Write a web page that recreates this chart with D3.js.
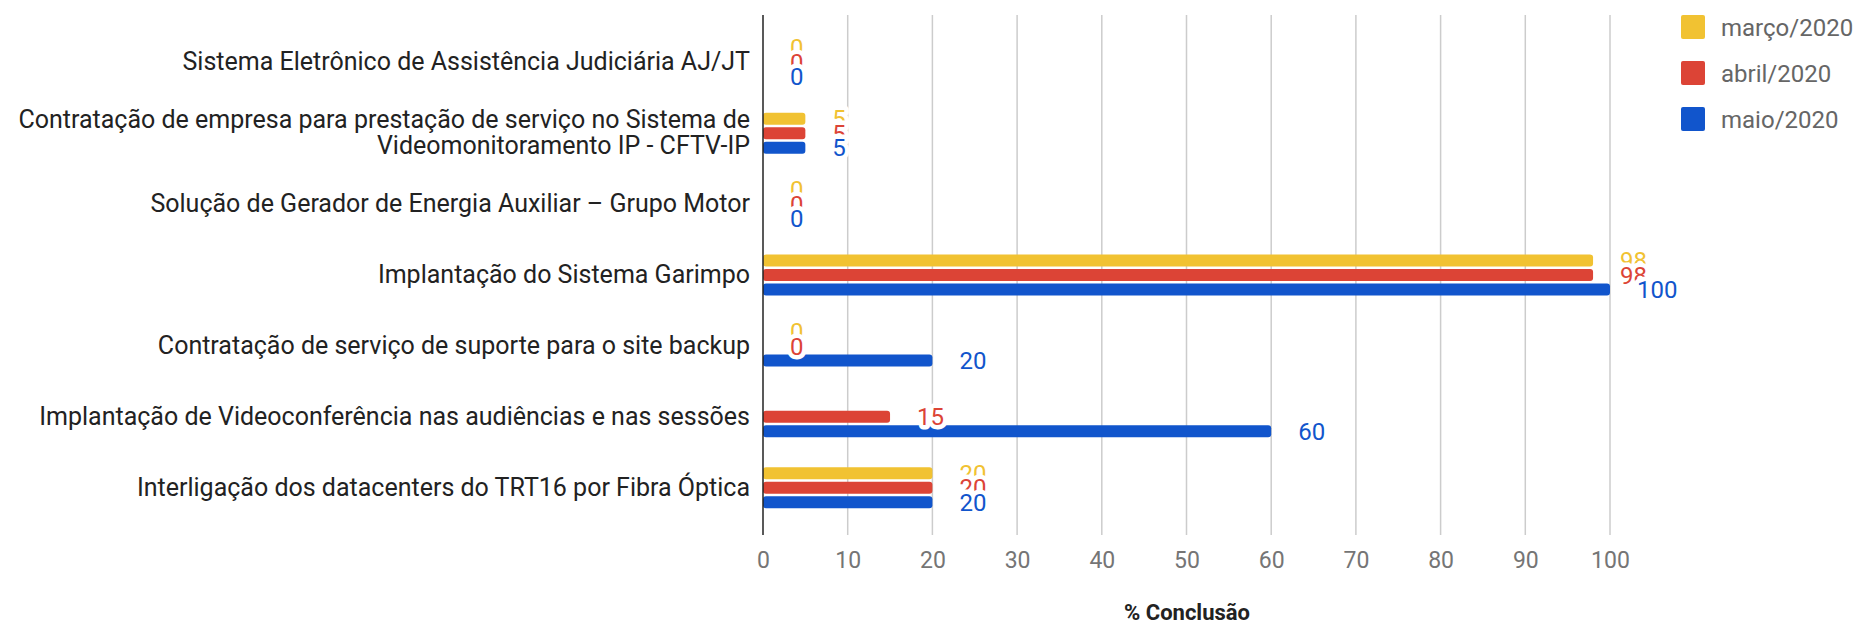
<!DOCTYPE html>
<html>
<head>
<meta charset="utf-8">
<script src="https://cdn.jsdelivr.net/npm/d3@7"></script>
<style>
  body { margin: 0; background: #fff; }
  text { font-family: Roboto, "Noto Sans", sans-serif; }
</style>
</head>
<body>
<div id="chart"></div>
<script>
// categories (line breaks where the label wraps)
var categories = [
    "Sistema Eletrônico de Assistência Judiciária AJ/JT",
    "Contratação de empresa para prestação de serviço no Sistema de\nVideomonitoramento IP - CFTV-IP",
    "Solução de Gerador de Energia Auxiliar – Grupo Motor",
    "Implantação do Sistema Garimpo",
    "Contratação de serviço de suporte para o site backup",
    "Implantação de Videoconferência nas audiências e nas sessões",
    "Interligação dos datacenters do TRT16 por Fibra Óptica"
];
var seriesNames = ["março/2020", "abril/2020", "maio/2020"];
var marco = [0, 5, 0, 98, 0, null, 20];
var abril = [0, 5, 0, 98, 0, 15, 20];
var maio  = [0, 5, 0, 100, 20, 60, 20];
var xTicks = [0, 10, 20, 30, 40, 50, 60, 70, 80, 90, 100];
var axisTitle = "% Conclusão";

var colors = ["#f1c232", "#dc4436", "#1155cc"];
var series = [marco, abril, maio];

var W = 1864, H = 624;
var margin = {top: 15, right: 254, bottom: 89, left: 763};
var width = W - margin.left - margin.right,
    height = H - margin.top - margin.bottom;

var svg = d3.select("#chart").append("svg")
    .attr("width", W)
    .attr("height", H);

var g = svg.append("g")
    .attr("transform", "translate(" + margin.left + "," + margin.top + ")");

var x = d3.scaleLinear()
    .domain([0, 100])
    .range([0, 847]);

var y = d3.scalePoint()
    .domain(d3.range(categories.length))
    .range([0, height])
    .padding(0.667);

var ySub = d3.scaleBand()
    .domain(d3.range(series.length))
    .range([-21.75, 21.75])
    .paddingInner(0.17)
    .paddingOuter(0.085);

// gridlines
g.append("g")
    .attr("class", "grid")
    .selectAll("line")
    .data(xTicks.slice(1))
    .enter().append("line")
    .attr("x1", function(d) { return x(d); })
    .attr("x2", function(d) { return x(d); })
    .attr("y1", 0)
    .attr("y2", height)
    .attr("stroke", "#cccccc")
    .attr("stroke-width", 1.5);

// x axis labels
var xAxis = d3.axisBottom(x)
    .tickValues(xTicks)
    .tickSize(0)
    .tickPadding(17);

var xg = g.append("g")
    .attr("transform", "translate(0," + height + ")")
    .call(xAxis);
xg.select(".domain").remove();
xg.selectAll("text")
    .attr("fill", "#757575")
    .style("font-size", "23px");

// bars
series.forEach(function(vals, s) {
    g.append("g")
        .selectAll("rect")
        .data(vals.map(function(v, i) { return {i: i, v: v}; })
            .filter(function(d) { return d.v !== null && d.v > 0; }))
        .enter().append("rect")
        .attr("x", 0)
        .attr("y", function(d) { return y(d.i) + ySub(s); })
        .attr("width", function(d) { return x(d.v); })
        .attr("height", ySub.bandwidth())
        .attr("rx", 3)
        .attr("fill", colors[s]);
});

// y axis line
g.append("line")
    .attr("x1", 0).attr("x2", 0)
    .attr("y1", 0).attr("y2", height)
    .attr("stroke", "#222")
    .attr("stroke-width", 1.5);

// value labels, white halo hides the label drawn before
series.forEach(function(vals, s) {
    g.append("g")
        .selectAll("text")
        .data(vals.map(function(v, i) { return {i: i, v: v}; })
            .filter(function(d) { return d.v !== null; }))
        .enter().append("text")
        .attr("x", function(d) { return x(d.v) + 27; })
        .attr("y", function(d) { return y(d.i) + ySub(s) + ySub.bandwidth() / 2; })
        .attr("dy", "0.36em")
        .attr("fill", colors[s])
        .attr("stroke", "#fff")
        .attr("stroke-width", 9)
        .attr("stroke-linejoin", "round")
        .style("paint-order", "stroke")
        .style("font-size", "24px")
        .text(function(d) { return d.v; });
});

// category labels
var cat = g.append("g")
    .selectAll("text")
    .data(categories)
    .enter().append("text")
    .attr("text-anchor", "end")
    .attr("x", -13)
    .attr("y", function(d, i) { return y(i) - 1; })
    .attr("fill", "#222")
    .style("font-size", "25px");

cat.each(function(d) {
    var lines = d.split("\n");
    var t = d3.select(this);
    lines.forEach(function(l, k) {
        t.append("tspan")
            .attr("x", -13)
            .attr("dy", k === 0 ? (0.36 - (lines.length - 1) * 0.53) + "em" : "1.06em")
            .text(l);
    });
});

// axis title
svg.append("text")
    .attr("x", 1187)
    .attr("y", 620)
    .attr("text-anchor", "middle")
    .attr("fill", "#222")
    .style("font-size", "22px")
    .style("font-weight", "bold")
    .text(axisTitle);

// legend
var leg = svg.append("g")
    .attr("transform", "translate(1681,15)")
    .selectAll("g")
    .data(seriesNames)
    .enter().append("g")
    .attr("transform", function(d, i) { return "translate(0," + (i * 46) + ")"; });

leg.append("rect")
    .attr("width", 24)
    .attr("height", 24)
    .attr("rx", 2)
    .attr("fill", function(d, i) { return colors[i]; });

leg.append("text")
    .attr("x", 40)
    .attr("y", 12)
    .attr("dy", "0.36em")
    .attr("fill", "#666")
    .style("font-size", "24px")
    .text(function(d) { return d; });
</script>
</body>
</html>
